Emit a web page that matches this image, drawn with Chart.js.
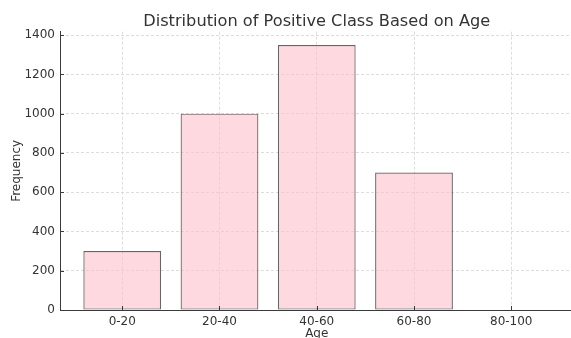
<!DOCTYPE html>
<html>
<head>
<meta charset="utf-8">
<script src="https://cdn.jsdelivr.net/npm/chart.js@4.4.1/dist/chart.umd.min.js"></script>
<style>
  html, body { margin: 0; padding: 0; overflow: hidden; background: #ffffff; }
  #wrap { width: 574px; height: 342px; }
</style>
</head>
<body>
<div id="wrap"><canvas id="chart" width="574" height="342"></canvas></div>
<script>
// Age bins and how many positive-class records fall in each
const ageGroups = ['0-20', '20-40', '40-60', '60-80', '80-100'];
const positiveCounts = [300, 1000, 1350, 700, 0];
const frequencyTicks = [0, 200, 400, 600, 800, 1000, 1200, 1400];

const FONT = "'DejaVu Sans', 'Liberation Sans', sans-serif";
const TEXT = '#333333';
const AXIS = '#3a3a3a';
const GRID = '#d4d4d4';

// Short tick marks pointing into the plot area
const innerTicks = {
  id: 'innerTicks',
  afterDatasetsDraw(chart) {
    const { ctx, chartArea, scales: { x, y } } = chart;
    ctx.save();
    ctx.strokeStyle = AXIS;
    ctx.lineWidth = 1;
    ctx.beginPath();
    x.ticks.forEach(t => {
      const px = Math.round(x.getPixelForValue(t.value)) + 0.5;
      ctx.moveTo(px, chartArea.bottom);
      ctx.lineTo(px, chartArea.bottom - 4);
    });
    y.ticks.forEach(t => {
      const py = Math.round(y.getPixelForValue(t.value)) + 0.5;
      ctx.moveTo(chartArea.left, py);
      ctx.lineTo(chartArea.left + 4, py);
    });
    ctx.stroke();
    ctx.restore();
  }
};

new Chart(document.getElementById('chart'), {
  type: 'bar',
  data: {
    datasets: [{
      label: 'Frequency',
      data: ageGroups.map((g, i) => ({ x: i, y: positiveCounts[i] })),
      backgroundColor: 'rgba(255, 192, 203, 0.6)',
      borderColor: 'rgba(40, 35, 36, 0.7)',
      borderWidth: 1.2,
      borderSkipped: false,
      barPercentage: 0.8,
      categoryPercentage: 1.0
    }]
  },
  options: {
    responsive: false,
    animation: false,
    layout: { padding: { left: 0, right: 0.5, top: 0, bottom: 0 } },
    plugins: {
      legend: { display: false },
      tooltip: { enabled: false },
      title: {
        display: true,
        text: 'Distribution of Positive Class Based on Age',
        color: TEXT,
        fullSize: false,
        font: { family: FONT, size: 16.2, weight: 'normal', lineHeight: 1 },
        padding: { top: 13.5, bottom: 2 }
      }
    },
    scales: {
      x: {
        type: 'linear',
        min: -0.64,
        max: 4.64,
        offset: false,
        afterFit: s => { s.height = 32; },
        afterBuildTicks: s => { s.ticks = ageGroups.map((g, i) => ({ value: i })); },
        ticks: {
          color: TEXT,
          font: { family: FONT, size: 12 },
          padding: 4.5,
          maxRotation: 0,
          autoSkip: false,
          callback: v => ageGroups[v]
        },
        grid: { color: GRID, lineWidth: 0.8, drawTicks: false, offset: false },
        border: { color: AXIS, width: 1, dash: [3, 2] },
        title: {
          display: true,
          text: 'Age',
          color: TEXT,
          font: { family: FONT, size: 12 },
          padding: { top: 0, bottom: 0.5 }
        }
      },
      y: {
        min: 0,
        max: 1417.5,
        afterFit: s => { s.width = 60; },
        afterBuildTicks: s => { s.ticks = frequencyTicks.map(v => ({ value: v })); },
        ticks: {
          color: TEXT,
          font: { family: FONT, size: 12 },
          padding: 5,
          callback: v => String(v)
        },
        grid: { color: GRID, lineWidth: 0.8, drawTicks: false },
        border: { color: AXIS, width: 1, dash: [3, 2] },
        title: {
          display: true,
          text: 'Frequency',
          color: TEXT,
          font: { family: FONT, size: 12 },
          padding: { top: 9.3, bottom: 0 }
        }
      }
    }
  },
  plugins: [innerTicks]
});
</script>
</body>
</html>
